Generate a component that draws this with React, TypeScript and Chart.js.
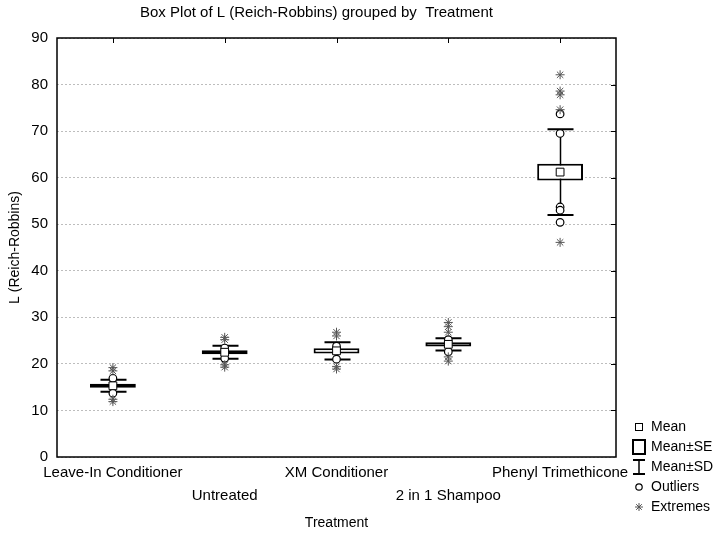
import { useEffect, useRef } from "react";
import { Chart, registerables } from "chart.js";

Chart.register(...registerables);

// Treatment groups and summary statistics of L (Reich-Robbins)
const categories = [
  "Leave-In Conditioner",
  "Untreated",
  "XM Conditioner",
  "2 in 1 Shampoo",
  "Phenyl Trimethicone",
];
const means = [15.3, 22.5, 22.8, 24.2, 61.2];
const stdErrs = [0.45, 0.45, 0.55, 0.45, 1.8];
const stdDevs = [1.3, 1.4, 1.85, 1.3, 9.2];
const outliers = [
  [16.9, 13.7],
  [23.4, 21.2],
  [23.8, 21.0],
  [25.2, 22.6],
  [73.7, 69.5, 53.7, 53.0, 50.4],
];
const extremes = [
  [19.2, 18.5, 12.4, 11.9],
  [25.7, 25.2, 19.8, 19.3],
  [26.8, 26.0, 19.4, 18.9],
  [28.9, 28.0, 26.8, 21.5, 20.6],
  [82.1, 78.6, 77.8, 74.6, 46.1],
];
const yMin = 0;
const yMax = 90;
const yStep = 10;

const chartTitle = "Box Plot of L (Reich-Robbins) grouped by  Treatment";
const yTitle = "L (Reich-Robbins)";
const xTitle = "Treatment";
const legendItems = ["Mean", "Mean±SE", "Mean±SD", "Outliers", "Extremes"];

const FONT = "'Liberation Sans', Arial, sans-serif";

const toPoints = (groups: number[][]) =>
  groups.flatMap((vals, i) => vals.map((v) => ({ x: categories[i], y: v })));

// Mean ± SD whiskers, drawn beneath the boxes
const whiskerPlugin = {
  id: "sdWhiskers",
  beforeDatasetsDraw(chart: any) {
    const { ctx, scales } = chart;
    const x = scales.x;
    const y = scales.y;
    ctx.save();
    ctx.strokeStyle = "#000";
    means.forEach((m, i) => {
      const cx = Math.round(x.getPixelForValue(i)) + 0.5;
      const top = y.getPixelForValue(m + stdDevs[i]);
      const bot = y.getPixelForValue(m - stdDevs[i]);
      ctx.lineWidth = 1.5;
      ctx.beginPath();
      ctx.moveTo(cx, top);
      ctx.lineTo(cx, bot);
      ctx.stroke();
      ctx.lineWidth = 2;
      ctx.beginPath();
      ctx.moveTo(cx - 13, top);
      ctx.lineTo(cx + 13, top);
      ctx.moveTo(cx - 13, bot);
      ctx.lineTo(cx + 13, bot);
      ctx.stroke();
    });
    ctx.restore();
  },
};

// Frame, inner tick marks, title and legend
const decorPlugin = {
  id: "decor",
  afterDraw(chart: any) {
    const { ctx, chartArea, scales } = chart;
    const { left, right, top, bottom } = chartArea;
    ctx.save();
    ctx.strokeStyle = "#000";
    ctx.lineWidth = 1.5;
    ctx.strokeRect(left, top, right - left, bottom - top);

    ctx.lineWidth = 1;
    ctx.beginPath();
    categories.forEach((_, i) => {
      const px = Math.round(scales.x.getPixelForValue(i)) + 0.5;
      ctx.moveTo(px, top);
      ctx.lineTo(px, top + 5);
    });
    for (let v = yMin + yStep; v < yMax; v += yStep) {
      const py = Math.round(scales.y.getPixelForValue(v)) + 0.5;
      ctx.moveTo(right, py);
      ctx.lineTo(right - 5, py);
    }
    ctx.stroke();

    // title
    ctx.fillStyle = "#000";
    ctx.font = `15px ${FONT}`;
    ctx.textAlign = "center";
    ctx.textBaseline = "middle";
    ctx.fillText(chartTitle, (left + right) / 2 - 20, 13);

    // legend
    ctx.font = `14px ${FONT}`;
    const sx = right + 23;
    const tx = right + 35;
    const y0 = bottom - 30;
    const gap = 20;
    ctx.textAlign = "left";
    legendItems.forEach((label, i) => {
      const cy = y0 + i * gap;
      ctx.fillStyle = "#000";
      ctx.fillText(label, tx, cy);
      ctx.strokeStyle = "#000";
      if (i === 0) {
        ctx.lineWidth = 1;
        ctx.fillStyle = "#fff";
        ctx.fillRect(sx - 3.5, cy - 3.5, 7, 7);
        ctx.strokeRect(sx - 3.5, cy - 3.5, 7, 7);
      } else if (i === 1) {
        ctx.lineWidth = 2;
        ctx.strokeRect(sx - 6, cy - 7, 12, 14);
      } else if (i === 2) {
        ctx.lineWidth = 2;
        ctx.beginPath();
        ctx.moveTo(sx - 6, cy - 7);
        ctx.lineTo(sx + 6, cy - 7);
        ctx.moveTo(sx - 6, cy + 7);
        ctx.lineTo(sx + 6, cy + 7);
        ctx.stroke();
        ctx.lineWidth = 1.5;
        ctx.beginPath();
        ctx.moveTo(sx, cy - 7);
        ctx.lineTo(sx, cy + 7);
        ctx.stroke();
      } else if (i === 3) {
        ctx.lineWidth = 1.2;
        ctx.beginPath();
        ctx.arc(sx, cy, 3.2, 0, Math.PI * 2);
        ctx.stroke();
      } else {
        ctx.strokeStyle = "#555";
        ctx.lineWidth = 1;
        ctx.beginPath();
        for (let k = 0; k < 4; k++) {
          const a = (k * Math.PI) / 4;
          ctx.moveTo(sx - 4 * Math.cos(a), cy - 4 * Math.sin(a));
          ctx.lineTo(sx + 4 * Math.cos(a), cy + 4 * Math.sin(a));
        }
        ctx.stroke();
      }
    });
    ctx.restore();
  },
};

export default function App() {
  const ref = useRef<HTMLCanvasElement>(null);

  useEffect(() => {
    const canvas = ref.current;
    if (!canvas) return;
    const chart = new Chart(canvas, {
      type: "bar",
      data: {
        labels: categories,
        datasets: [
          {
            type: "bar",
            label: "Mean±SE",
            data: means.map((m, i) => [m - stdErrs[i], m + stdErrs[i]]),
            backgroundColor: "#fff",
            borderColor: "#000",
            borderWidth: 2,
            borderSkipped: false,
            barPercentage: 0.41,
            categoryPercentage: 1,
            order: 4,
          } as any,
          {
            type: "line",
            label: "Outliers",
            data: toPoints(outliers),
            showLine: false,
            pointStyle: "circle",
            pointRadius: 3.8,
            pointBackgroundColor: "#fff",
            pointBorderColor: "#000",
            pointBorderWidth: 1.2,
            order: 3,
          } as any,
          {
            type: "line",
            label: "Extremes",
            data: toPoints(extremes),
            showLine: false,
            pointStyle: "star",
            pointRadius: 4.5,
            pointBorderColor: "#555",
            pointBorderWidth: 1,
            order: 2,
          } as any,
          {
            type: "line",
            label: "Mean",
            data: means,
            showLine: false,
            pointStyle: "rect",
            pointRadius: 5.5,
            pointBackgroundColor: "#fff",
            pointBorderColor: "#000",
            pointBorderWidth: 1,
            order: 1,
          } as any,
        ],
      },
      options: {
        responsive: false,
        animation: false,
        layout: { padding: { top: 38, right: 103, bottom: 0, left: 0 } },
        plugins: {
          legend: { display: false },
          tooltip: { enabled: false },
          title: { display: false },
        },
        scales: {
          x: {
            type: "category",
            offset: true,
            grid: { display: false, drawTicks: false },
            border: { display: false },
            ticks: {
              autoSkip: false,
              maxRotation: 0,
              minRotation: 0,
              padding: 4,
              color: "#000",
              font: { family: FONT, size: 15, lineHeight: 1.55 },
              callback: (_v: any, i: number) =>
                i % 2 === 1 ? ["", categories[i]] : categories[i],
            },
            title: {
              display: true,
              text: xTitle,
              color: "#000",
              font: { family: FONT, size: 14 },
              padding: { top: 0, bottom: 5 },
            },
            afterFit: (scale: any) => {
              scale.height = 80;
              scale.paddingLeft = 0;
              scale.paddingRight = 0;
            },
          },
          y: {
            min: yMin,
            max: yMax,
            grid: { color: "#bdbdbd", lineWidth: 1, drawTicks: false },
            border: { display: false, dash: [2, 2] },
            ticks: {
              stepSize: yStep,
              padding: 9,
              color: "#000",
              font: { family: FONT, size: 15 },
            },
            title: {
              display: true,
              text: yTitle,
              color: "#000",
              font: { family: FONT, size: 14 },
              padding: { top: 7, bottom: 0 },
            },
            afterFit: (scale: any) => {
              scale.width = 57;
              scale.paddingTop = 0;
              scale.paddingBottom = 0;
            },
          },
        },
      },
      plugins: [whiskerPlugin, decorPlugin],
    });
    return () => chart.destroy();
  }, []);

  return (
    <div
      style={{
        position: "absolute",
        left: 0,
        top: 0,
        width: 719,
        height: 537,
        background: "#fff",
      }}
    >
      <canvas ref={ref} width={719} height={537} style={{ display: "block" }} />
    </div>
  );
}
